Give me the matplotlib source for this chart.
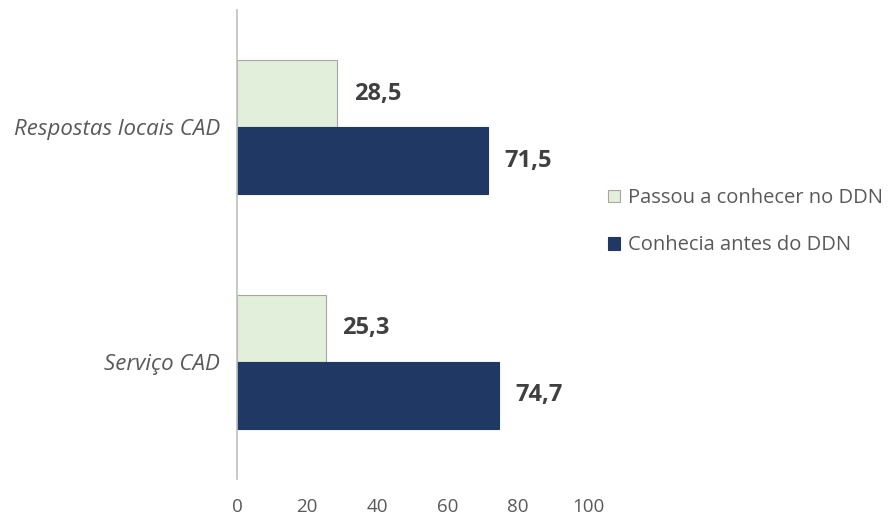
import matplotlib.pyplot as plt
import numpy as np

categories = ["Serviço CAD", "Respostas locais CAD"]
series_names = ["Passou a conhecer no DDN", "Conhecia antes do DDN"]
passou = [25.3, 28.5]
conhecia = [74.7, 71.5]
xticks = [0, 20, 40, 60, 80, 100]

plt.rcParams['font.family'] = ['Open Sans', 'DejaVu Sans']

fig = plt.figure(figsize=(8.9, 5.19), dpi=100)
ax = fig.add_axes([237/890, 40/519, (588-237)/890, (479-10)/519])

y = np.arange(len(categories))
h = 0.286
light = "#E2EFDA"
dark = "#203864"
b1 = ax.barh(y + h/2, passou, height=h, color=light, edgecolor="#A6A6A6", linewidth=0.8,
             label=series_names[0])
b2 = ax.barh(y - h/2, conhecia, height=h, color=dark, edgecolor=dark, linewidth=0.8,
             label=series_names[1])

for bars, vals in ((b1, passou), (b2, conhecia)):
    for r, v in zip(bars, vals):
        ax.annotate(f"{v:.1f}".replace(".", ","),
                    (r.get_width(), r.get_y() + r.get_height()/2),
                    xytext=(12, 0), textcoords="offset points",
                    ha="left", va="center", fontsize=17, fontweight="bold", color="#404040")

ax.set_xlim(0, 100)
ax.set_ylim(-0.5, 1.5)
ax.set_yticks(y)
ax.set_yticklabels(categories, fontstyle="italic", fontsize=16, color="#595959")
ax.set_xticks(xticks)
ax.set_xticklabels([str(t) for t in xticks], fontsize=13.5, color="#595959")
ax.tick_params(axis="y", length=0, pad=12)
ax.tick_params(axis="x", length=0, pad=14)
for s in ("top", "right", "bottom"):
    ax.spines[s].set_visible(False)
ax.spines["left"].set_color("#BFBFBF")
ax.spines["left"].set_linewidth(1.2)

leg = fig.legend(handles=[b1, b2], loc="upper left", bbox_to_anchor=(604/890, 1 - 184/519),
                 frameon=False, fontsize=14.5, handlelength=0.6, handleheight=0.6,
                 handletextpad=0.4, labelspacing=1.35, borderaxespad=0, borderpad=0.2)
for t in leg.get_texts():
    t.set_color("#595959")

fig.savefig("out.png", dpi=100)
